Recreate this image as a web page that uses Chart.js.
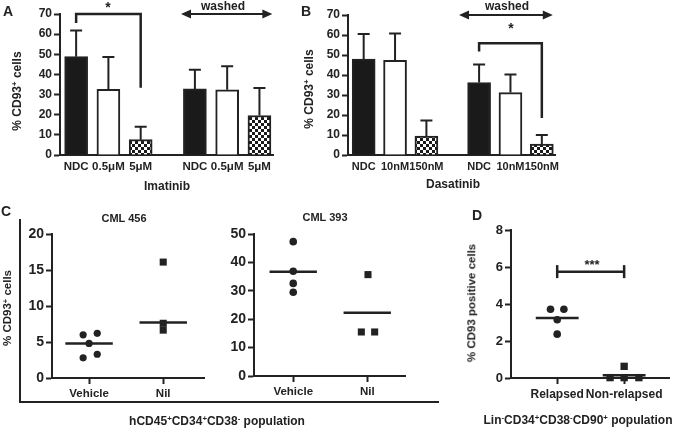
<!DOCTYPE html>
<html lang="en">
<head>
<meta charset="UTF-8">
<title>CD93 panels</title>
<script src="https://cdn.jsdelivr.net/npm/chart.js"></script>
<style>
  html, body { margin: 0; padding: 0; background: #fff; }
  #page { position: relative; width: 686px; height: 431px; overflow: hidden;
          font-family: "Liberation Sans", Arial, sans-serif; color: #222; }
  #page canvas { position: absolute; left: 0; top: 0; }
  .t { position: absolute; white-space: nowrap; font-weight: bold; line-height: 1;
       transform: translate(-50%, -50%); z-index: 5; }
  .yt { transform: translate(-50%, -50%) rotate(-90deg); }
  sup { font-size: 0.65em; line-height: 0; vertical-align: 0.5em; }
  #frameC { position: absolute; left: 19px; top: 219px; width: 418px; height: 182px;
            border-left: 2px solid #222; border-bottom: 2px solid #222; }
</style>
</head>
<body>
<div id="page">
  <div id="frameC"></div>

  <div class="t" style="left:8px;top:11px;font-size:14px">A</div>
  <div class="t" style="left:306px;top:11px;font-size:14px">B</div>
  <div class="t" style="left:6px;top:211px;font-size:14px">C</div>
  <div class="t" style="left:477px;top:215px;font-size:14px">D</div>

  <div class="t" style="left:108px;top:7px;font-size:14px">*</div>
  <div class="t" style="left:223px;top:6px;font-size:12px">washed</div>
  <div class="t" style="left:507px;top:6px;font-size:12px">washed</div>
  <div class="t" style="left:511px;top:28px;font-size:14px">*</div>
  <div class="t" style="left:592px;top:264px;font-size:13px">***</div>

  <div class="t" style="left:167px;top:186px;font-size:12px">Imatinib</div>
  <div class="t" style="left:453px;top:184px;font-size:12px">Dasatinib</div>
  <div class="t yt" style="left:17px;top:91px;font-size:12px">% CD93<sup>+</sup> cells</div>
  <div class="t yt" style="left:309px;top:89px;font-size:12px">% CD93<sup>+</sup> cells</div>

  <div class="t" style="left:124px;top:218px;font-size:11px">CML 456</div>
  <div class="t" style="left:325px;top:217px;font-size:11px">CML 393</div>
  <div class="t yt" style="left:8px;top:308px;font-size:11.5px">% CD93<sup>+</sup> cells</div>
  <div class="t yt" style="left:472px;top:303px;font-size:11.5px">% CD93 positive cells</div>
  <div class="t" style="left:217px;top:421px;font-size:12px">hCD45<sup>+</sup>CD34<sup>+</sup>CD38<sup>-</sup> population</div>
  <div class="t" style="left:578px;top:420px;font-size:12px">Lin<sup>-</sup>CD34<sup>+</sup>CD38<sup>-</sup>CD90<sup>+</sup> population</div>
</div>

<script>
// panel A - imatinib, then washed
const A_LABELS = ['NDC', '0.5μM', '5μM', 'NDC', '0.5μM', '5μM'];
const A_MEANS = [48.8, 32.6, 7.6, 32.8, 32.4, 19.6];
const A_SEM = [13.0, 16.0, 6.4, 9.5, 11.6, 13.7];

// panel B - dasatinib, then washed
const B_LABELS = ['NDC', '10nM', '150nM', 'NDC', '10nM', '150nM'];
const B_MEANS = [48.0, 47.3, 9.5, 36.2, 31.2, 5.5];
const B_SEM = [12.5, 13.4, 7.7, 9.0, 9.0, 4.5];

// panel C
const C_LABELS = ['Vehicle', 'Nil'];
const C1_VEHICLE = [6.0, 6.2, 4.8, 2.8, 3.3];
const C1_NIL = [16.1, 7.6, 6.65];
const C1_LINES = [4.8, 7.7];
const C2_VEHICLE = [47.3, 36.9, 32.6, 29.5];
const C2_NIL = [35.7, 15.5, 15.5];
const C2_LINES = [36.7, 22.3];

// panel D
const D_LABELS = ['Relapsed', 'Non-relapsed'];
const D_RELAPSED = [3.72, 3.72, 3.15, 2.37];
const D_NONREL = [0.63, 0.02, 0.02, 0.02];
const D_LINES = [3.24, 0.15];

const W = 686, H = 431;
const INK = '#222';
const FONT = '"Liberation Sans", Arial, sans-serif';
const GAP = 0.68; // extra room before the washed group

function positions(n) {
    return Array.from({ length: n }, (_, i) => i + (i >= 3 ? GAP : 0));
}

// chart area placed on the page: l, t, r, b in px
function layoutFor(area) {
    return { autoPadding: false,
        padding: { left: area.l - 40, top: area.t, right: W - area.r, bottom: H - area.b - 25 } };
}

function newCanvas() {
    const c = document.createElement('canvas');
    c.width = W; c.height = H;
    document.getElementById('page').appendChild(c);
    return c;
}

function checker() {
    const c = document.createElement('canvas');
    c.width = c.height = 6;
    const g = c.getContext('2d');
    g.fillStyle = '#fff'; g.fillRect(0, 0, 6, 6);
    g.fillStyle = '#1a1a1a'; g.fillRect(0, 0, 3, 3); g.fillRect(3, 3, 3, 3);
    return g.createPattern(c, 'repeat');
}

function yAxis(max, step, size) {
    return {
        min: 0, max: max,
        ticks: { stepSize: step, color: INK, padding: 2, font: { family: FONT, size: size, weight: 'bold' } },
        grid: { drawOnChartArea: false, tickLength: 6, tickWidth: 2, tickColor: INK },
        border: { color: INK, width: 2 },
        afterFit: s => { s.width = 40; }
    };
}

function xAxis(min, max, pos, labels, size, marks) {
    return {
        type: 'linear', min: min, max: max, offset: false,
        afterBuildTicks: s => { s.ticks = pos.map(v => ({ value: v })); },
        ticks: { autoSkip: false, maxRotation: 0, color: INK, padding: marks ? 3 : 5,
                 font: { family: FONT, size: size, weight: 'bold' },
                 callback: (v, i) => labels[i] },
        grid: marks ? { offset: false, drawOnChartArea: false, tickLength: 6, tickWidth: 2, tickColor: INK }
                    : { offset: false, display: false, drawTicks: false },
        border: { color: INK, width: 2 },
        afterFit: s => { s.height = 25; }
    };
}

function errorBars(means, sem) {
    return {
        id: 'errorBars',
        afterDatasetsDraw(chart) {
            const ctx = chart.ctx, y = chart.scales.y;
            ctx.save();
            ctx.strokeStyle = INK; ctx.lineWidth = 2;
            chart.getDatasetMeta(0).data.forEach((bar, i) => {
                const top = y.getPixelForValue(means[i] + sem[i]);
                ctx.beginPath();
                ctx.moveTo(bar.x, bar.y); ctx.lineTo(bar.x, top);
                ctx.moveTo(bar.x - 6, top); ctx.lineTo(bar.x + 6, top);
                ctx.stroke();
            });
            ctx.restore();
        }
    };
}

// extra strokes (brackets, arrows) given in data units
function marks(draw) {
    return {
        id: 'marks',
        afterDraw(chart) {
            const ctx = chart.ctx, sx = chart.scales.x, sy = chart.scales.y;
            const px = v => sx.getPixelForValue(v), py = v => sy.getPixelForValue(v);
            ctx.save();
            ctx.strokeStyle = INK; ctx.fillStyle = INK; ctx.lineWidth = 2.5;
            draw(ctx, px, py);
            ctx.restore();
        }
    };
}

function polyline(ctx, pts) {
    ctx.beginPath();
    pts.forEach((p, i) => i ? ctx.lineTo(p[0], p[1]) : ctx.moveTo(p[0], p[1]));
    ctx.stroke();
}

function doubleArrow(ctx, x1, x2, y) {
    const hl = 10, hw = 4.5;
    ctx.lineWidth = 2;
    polyline(ctx, [[x1 + hl - 1, y], [x2 - hl + 1, y]]);
    ctx.beginPath();
    ctx.moveTo(x1, y); ctx.lineTo(x1 + hl, y - hw); ctx.lineTo(x1 + hl, y + hw); ctx.closePath();
    ctx.moveTo(x2, y); ctx.lineTo(x2 - hl, y - hw); ctx.lineTo(x2 - hl, y + hw); ctx.closePath();
    ctx.fill();
}

const CHECK = checker();
const FILLS = ['#1a1a1a', '#ffffff', CHECK, '#1a1a1a', '#ffffff', CHECK];

function barPanel(area, labels, means, sem, xMax, tick, extra) {
    const pos = positions(labels.length);
    new Chart(newCanvas(), {
        type: 'bar',
        data: {
            datasets: [{
                data: pos.map((x, i) => ({ x: x, y: means[i] })),
                backgroundColor: FILLS,
                borderColor: INK,
                borderWidth: 2,
                barThickness: 23
            }]
        },
        options: {
            responsive: false, animation: false,
            layout: layoutFor(area),
            plugins: { legend: { display: false }, tooltip: { enabled: false } },
            scales: {
                x: xAxis(-0.5, xMax, pos, labels, tick, false),
                y: yAxis(70, 10, 12)
            }
        },
        plugins: [errorBars(means, sem), marks(extra)]
    });
}

function dotPanel(area, labels, groups, lines, xMin, xMax, yMax, step, tick, xTick, extra) {
    const sets = groups.map((g, gi) => ({
        type: 'scatter',
        data: g.vals.map((v, i) => ({ x: gi + 1 + g.jit[i], y: v })),
        pointStyle: g.style, pointRadius: g.r,
        backgroundColor: INK, borderColor: INK, borderWidth: 0, clip: false
    }));
    lines.forEach((m, gi) => sets.push({
        type: 'scatter', showLine: true,
        data: [{ x: gi + 1 - 0.32, y: m }, { x: gi + 1 + 0.32, y: m }],
        borderColor: INK, borderWidth: 2.5, pointRadius: 0, clip: false
    }));
    new Chart(newCanvas(), {
        type: 'scatter',
        data: { datasets: sets },
        options: {
            responsive: false, animation: false,
            layout: layoutFor(area),
            plugins: { legend: { display: false }, tooltip: { enabled: false } },
            scales: {
                x: xAxis(xMin, xMax, [1, 2], labels, xTick, true),
                y: yAxis(yMax, step, tick)
            }
        },
        plugins: extra ? [marks(extra)] : []
    });
}

// A
barPanel({ l: 60, t: 14, r: 273, b: 155 }, A_LABELS, A_MEANS, A_SEM, 6.1, 11.5, (ctx, px, py) => {
    polyline(ctx, [[px(0), py(65.5)], [px(0), py(70)], [px(2), py(70)], [px(2), py(33.4)]]);
    doubleArrow(ctx, px(3 + GAP - 0.43), px(5 + GAP + 0.4), py(70));
});

// B
barPanel({ l: 348, t: 15, r: 555, b: 155 }, B_LABELS, B_MEANS, B_SEM, 6.1, 11, (ctx, px, py) => {
    polyline(ctx, [[px(3 + GAP), py(51.7)], [px(3 + GAP), py(55.9)], [px(5 + GAP), py(55.9)], [px(5 + GAP), py(18.5)]]);
    doubleArrow(ctx, px(3 + GAP - 0.64), px(5 + GAP + 0.35), py(70));
});

// C, CML 456
dotPanel({ l: 52, t: 234, r: 204, b: 378 }, C_LABELS, [
    { vals: C1_VEHICLE, jit: [-0.08, 0.11, 0, -0.08, 0.11], style: 'circle', r: 3.6 },
    { vals: C1_NIL, jit: [0, 0, 0], style: 'rect', r: 5 }
], C1_LINES, 0.5, 2.55, 20, 5, 14, 11.5);

// C, CML 393
dotPanel({ l: 254, t: 234, r: 405, b: 376 }, C_LABELS, [
    { vals: C2_VEHICLE, jit: [0, 0, 0, 0], style: 'circle', r: 3.8 },
    { vals: C2_NIL, jit: [0.01, -0.08, 0.1], style: 'rect', r: 5 }
], C2_LINES, 0.47, 2.51, 50, 10, 14, 11.5);

// D
dotPanel({ l: 511, t: 230, r: 669, b: 378 }, D_LABELS, [
    { vals: D_RELAPSED, jit: [-0.1, 0.1, 0, 0], style: 'circle', r: 3.8 },
    { vals: D_NONREL, jit: [0, -0.21, 0, 0.22], style: 'rect', r: 5.2 }
], D_LINES, 0.31, 2.67, 8, 2, 13, 12, (ctx, px, py) => {
    ctx.lineWidth = 2.5;
    polyline(ctx, [[px(1), py(5.75)], [px(2), py(5.75)]]);
    polyline(ctx, [[px(1), py(5.75) - 6.5], [px(1), py(5.75) + 6.5]]);
    polyline(ctx, [[px(2), py(5.75) - 6.5], [px(2), py(5.75) + 6.5]]);
});
</script>
</body>
</html>
